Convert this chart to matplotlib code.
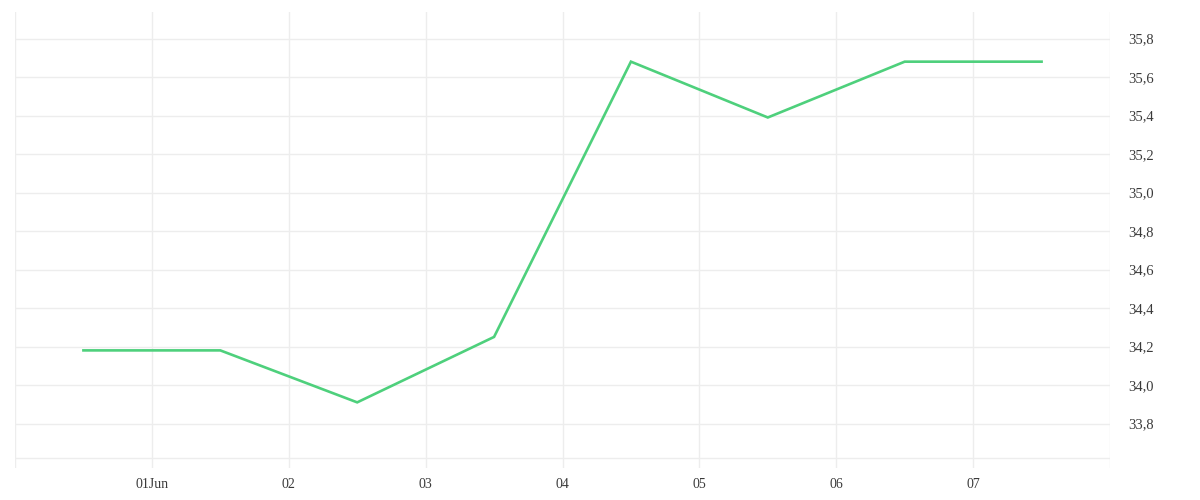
import matplotlib
matplotlib.use("Agg")
import matplotlib.pyplot as plt
import matplotlib.dates as mdates
import numpy as np
import datetime as dt

dates = ["2024-05-31 12:00", "2024-06-01 12:00", "2024-06-02 12:00", "2024-06-03 12:00",
         "2024-06-04 12:00", "2024-06-05 12:00", "2024-06-06 12:00", "2024-06-07 12:00"]
values = [34.18, 34.18, 33.91, 34.25, 35.68, 35.39, 35.68, 35.68]
y_ticks = [33.8, 34.0, 34.2, 34.4, 34.6, 34.8, 35.0, 35.2, 35.4, 35.6, 35.8]
x_tick_labels = ["01Jun", "02", "03", "04", "05", "06", "07"]

x = [dt.datetime.strptime(d, "%Y-%m-%d %H:%M") for d in dates]

fig = plt.figure(figsize=(12, 5), dpi=100)
ax = fig.add_axes([15/1200, 32/500, 1095/1200, 456/500])

grid_c = "#ededed"
ax.set_xlim(dt.datetime(2024, 5, 31), dt.datetime(2024, 6, 8))
ax.set_ylim(33.569, 35.938)

for d in range(0, 9):
    ax.axvline(dt.datetime(2024, 5, 31) + dt.timedelta(days=d), color=grid_c, lw=1, zorder=0)
for yv in y_ticks:
    ax.axhline(yv, color=grid_c, lw=1, zorder=0)
ax.axhline(33.621, color=grid_c, lw=1, zorder=0)

ax.plot(x, values, color="#4ed07c", lw=1.9, solid_joinstyle="miter", zorder=3)

for s in ax.spines.values():
    s.set_visible(False)

tick_pos = [dt.datetime(2024, 6, 1) + dt.timedelta(days=i) for i in range(7)]
ax.set_xticks(tick_pos)
ax.set_xticklabels(x_tick_labels, fontsize=10, color="#3a3a3a", family="Liberation Serif")
ax.yaxis.tick_right()
ax.set_yticks(y_ticks)
ax.set_yticklabels([f"{v:.1f}".replace(".", ",") for v in y_ticks], fontsize=10.5,
                   color="#3a3a3a", family="Liberation Serif")
ax.tick_params(axis="both", length=0)
ax.tick_params(axis="x", pad=7)
ax.tick_params(axis="y", pad=13)

fig.savefig("out.png", dpi=100, facecolor="white")
